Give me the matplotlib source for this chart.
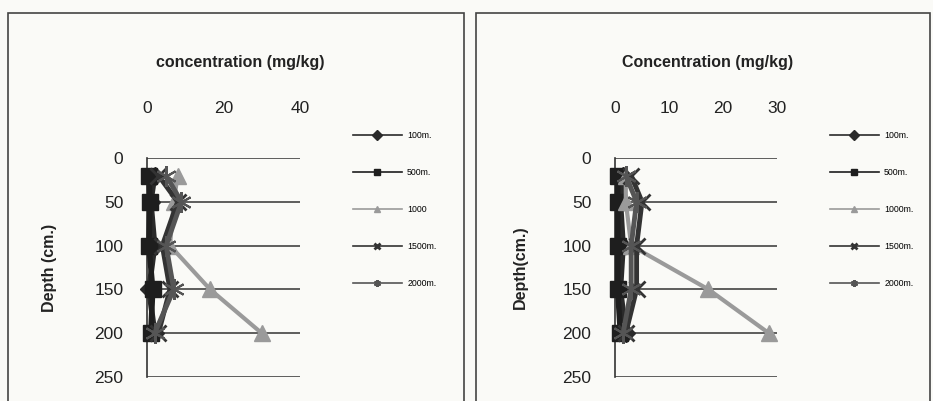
import numpy as np
import matplotlib
matplotlib.use("Agg")
import matplotlib.pyplot as plt
from matplotlib.patches import Rectangle

plt.rcParams['font.family'] = ['Liberation Sans', 'DejaVu Sans']

depth = [20, 50, 100, 150, 200]
series_names_l = ["100m.", "500m.", "1000", "1500m.", "2000m."]
series_names_r = ["100m.", "500m.", "1000m.", "1500m.", "2000m."]

# left panel (mg/kg)
left_100 = [2, 1, 2, 0.5, 2]
left_500 = [0.5, 0.8, 0.5, 1.5, 1]
left_1000 = [8, 7, 6, 16.5, 30]
left_1500 = [3, 8, 4, 6, 3]
left_2000 = [5, 9, 5, 7, 2]

# right panel (mg/kg)
right_100 = [1.5, 1, 1.5, 1, 2]
right_500 = [0.5, 0.5, 0.5, 0.5, 1]
right_1000 = [2, 2, 3, 17.3, 28.5]
right_1500 = [3, 5, 4, 4, 2]
right_2000 = [2, 4, 3, 3, 1.5]

styles = [
    dict(color="#2a2a2a", marker="D", ms=9, lw=4),
    dict(color="#1e1e1e", marker="s", ms=12, lw=4),
    dict(color="#9a9a9a", marker="^", ms=12, lw=3),
    dict(color="#333333", marker="x", ms=12, lw=3.5, mew=2),
    dict(color="#555555", marker=(6, 2, 0), ms=15, lw=3.5, mew=1.5),
]

fig = plt.figure(figsize=(9.33, 4.01), dpi=100)
fig.patch.set_facecolor("#fafaf7")

# panel frames
fig.add_artist(Rectangle((8/933, -0.01), 456/933, 1 - 13/401 + 0.01, transform=fig.transFigure,
                         fill=False, ec="#444444", lw=1.2))
fig.add_artist(Rectangle((476/933, -0.01), 454/933, 1 - 13/401 + 0.01, transform=fig.transFigure,
                         fill=False, ec="#444444", lw=1.2))


def panel(rect, data, names, xmax, xticks, title, ylabel, title_x, ylabel_x, leg_x):
    ax = fig.add_axes(rect)
    ax.set_facecolor("none")
    for vals, name, st in zip(data, names, styles):
        ax.plot(vals, depth, label=name, color=st["color"], marker=st["marker"],
                ms=st["ms"], lw=st["lw"], mew=st.get("mew", 1), zorder=3, clip_on=False)
    ax.set_xlim(0, xmax)
    ax.set_ylim(250, 0)
    ax.set_yticks([0, 50, 100, 150, 200, 250])
    ax.set_xticks(xticks)
    ax.xaxis.tick_top()
    ax.tick_params(axis="x", length=0, pad=30, labelsize=12.5, colors="#222222")
    ax.tick_params(axis="y", length=0, pad=17, labelsize=12.5, colors="#222222")
    for s in ["top", "right", "bottom"]:
        ax.spines[s].set_visible(False)
    ax.spines["left"].set_color("#333333")
    ax.spines["left"].set_linewidth(1.2)
    ax.grid(axis="y", color="#333333", lw=1.1)
    ax.set_axisbelow(True)
    ax.set_ylabel(ylabel, fontsize=11.5, fontweight="bold", color="#222222")
    ax.yaxis.set_label_coords(ylabel_x, 0.5)
    fig.text(title_x, 1 - 62/401, title, fontsize=11.5, fontweight="bold",
             color="#222222", ha="center", va="center")
    leg = ax.legend(loc="upper left", bbox_to_anchor=(leg_x, 1 - 123/401),
                    bbox_transform=fig.transFigure, frameon=False, fontsize=6.3,
                    labelspacing=3.2, handlelength=5.6, handletextpad=0.6)
    for h in leg.legend_handles:
        h.set_linewidth(1.2)
        h.set_markersize(5)
    return ax


panel([147/933, 24/401, 153/933, 219/401],
      [left_100, left_500, left_1000, left_1500, left_2000], series_names_l,
      40, [0, 20, 40], "concentration (mg/kg)", "Depth (cm.)",
      240/933, -0.59, 345/933)

panel([615/933, 24/401, 162/933, 219/401],
      [right_100, right_500, right_1000, right_1500, right_2000], series_names_r,
      30, [0, 10, 20, 30], "Concentration (mg/kg)", "Depth(cm.)",
      708/933, -0.54, 822/933)

plt.savefig("out.png", dpi=100, facecolor=fig.get_facecolor())
